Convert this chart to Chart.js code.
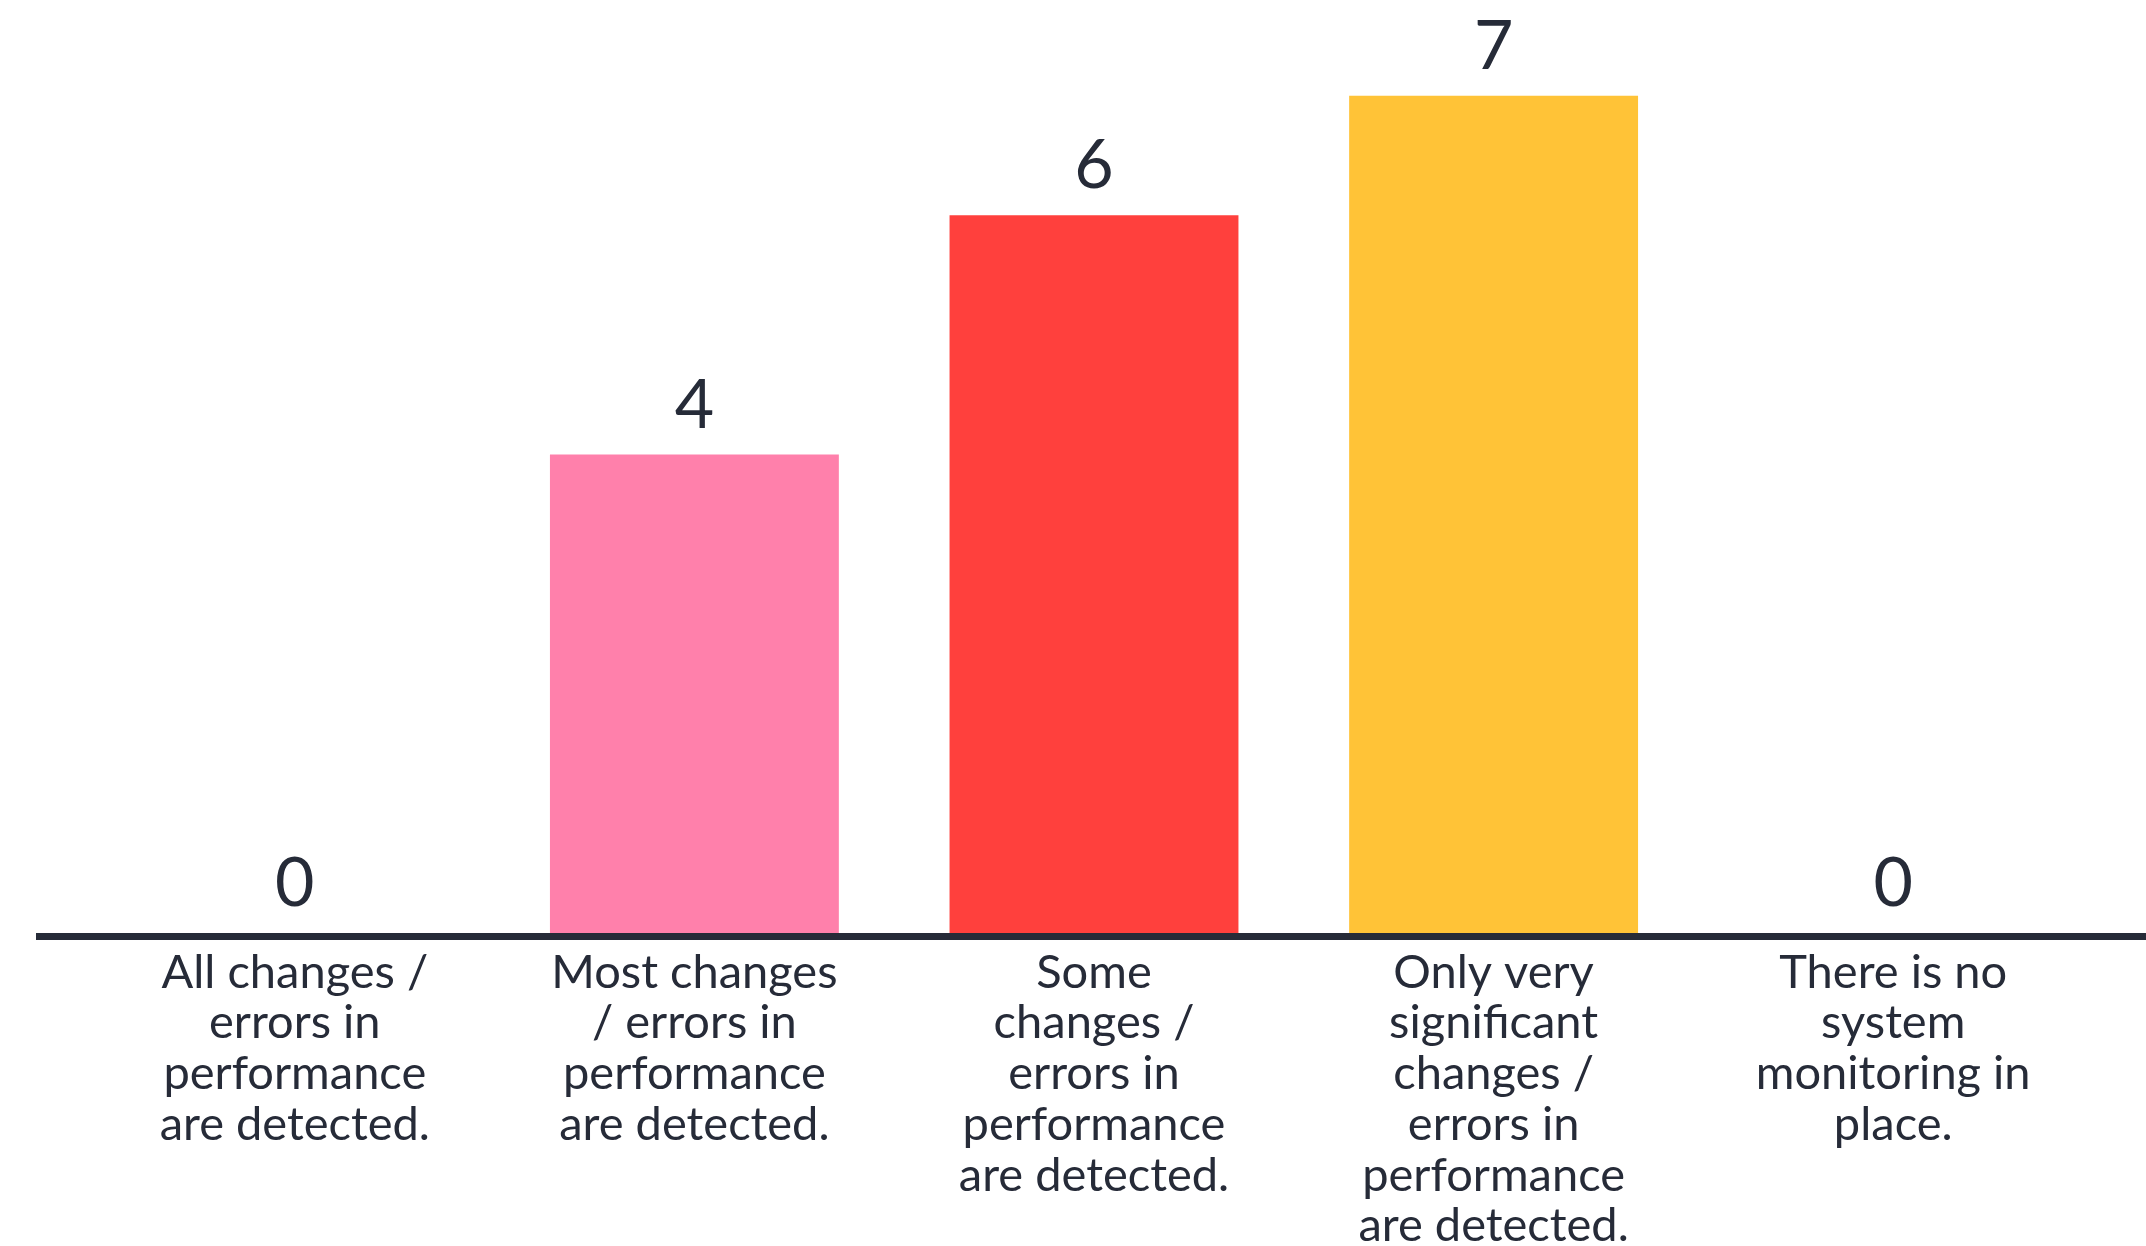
<!DOCTYPE html>
<html>
<head>
<meta charset="utf-8">
<script src="https://cdn.jsdelivr.net/npm/chart.js@4.4.1/dist/chart.umd.min.js"></script>
<style>
  html, body { margin: 0; padding: 0; background: #ffffff; }
  #wrap { width: 2146px; height: 1246px; position: relative; }
</style>
</head>
<body>
<div id="wrap"><canvas id="detectChart"></canvas></div>
<script>
// categories (split into lines as they appear under the axis)
const categories = [
    ['All changes /', 'errors in', 'performance', 'are detected.'],
    ['Most changes', '/ errors in', 'performance', 'are detected.'],
    ['Some', 'changes /', 'errors in', 'performance', 'are detected.'],
    ['Only very', 'significant', 'changes /', 'errors in', 'performance', 'are detected.'],
    ['There is no', 'system', 'monitoring in', 'place.']
];
const responses = [0, 4, 6, 7, 0];
const barColors = ['#ff80ab', '#ff80ab', '#ff403d', '#ffc337', '#ffc337'];

const textColor = '#262b38';
const fontFamily = 'Lato, "Open Sans", sans-serif';

// angka di atas tiap batang
const valueLabels = {
    id: 'valueLabels',
    afterDatasetsDraw(chart) {
        const ctx = chart.ctx;
        const meta = chart.getDatasetMeta(0);
        ctx.save();
        ctx.fillStyle = textColor;
        ctx.font = '400 68px ' + fontFamily;
        ctx.textAlign = 'center';
        ctx.textBaseline = 'alphabetic';
        meta.data.forEach((bar, i) => {
            ctx.fillText(String(responses[i]), bar.x, bar.y - 27);
        });
        ctx.restore();
    }
};

// garis dasar yang memanjang melewati area grafik
const baseLine = {
    id: 'baseLine',
    afterDatasetsDraw(chart) {
        const ctx = chart.ctx;
        const y = chart.scales.y.getPixelForValue(0);
        ctx.save();
        ctx.strokeStyle = textColor;
        ctx.lineWidth = 7;
        ctx.beginPath();
        ctx.moveTo(36, y + 3.5);
        ctx.lineTo(chart.width, y + 3.5);
        ctx.stroke();
        ctx.restore();
    }
};

const ctx = document.getElementById('detectChart').getContext('2d');
new Chart(ctx, {
    type: 'bar',
    data: {
        labels: categories,
        datasets: [{
            data: responses,
            backgroundColor: barColors,
            borderWidth: 0,
            barPercentage: 1,
            categoryPercentage: 0.723
        }]
    },
    options: {
        responsive: true,
        maintainAspectRatio: false,
        animation: false,
        layout: { padding: { left: 95, right: 53, top: 0, bottom: 0 } },
        plugins: {
            legend: { display: false },
            tooltip: { enabled: false }
        },
        scales: {
            x: {
                grid: { display: false },
                border: { display: false },
                afterFit: (axis) => { axis.height = 313; },
                ticks: {
                    autoSkip: false,
                    maxRotation: 0,
                    padding: 6,
                    color: textColor,
                    font: { family: fontFamily, size: 47, lineHeight: 1.08 }
                }
            },
            y: {
                display: false,
                min: 0,
                max: 7.8
            }
        }
    },
    plugins: [valueLabels, baseLine]
});
</script>
</body>
</html>
